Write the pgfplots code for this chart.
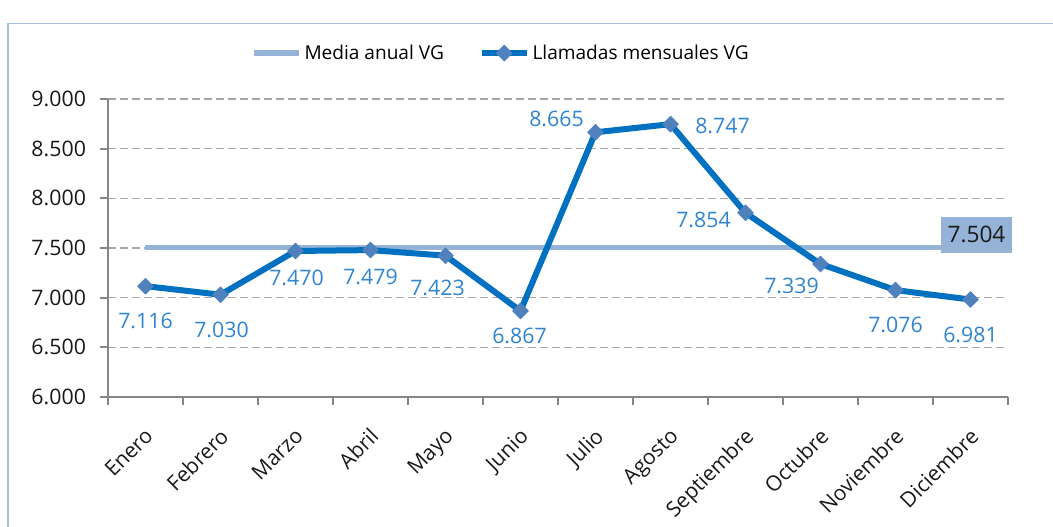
\documentclass[border=0pt]{standalone}
\usepackage{pgfplots}
\usepackage{pgfplotstable}
\pgfplotsset{compat=1.18}
\usepackage{fontspec}
\setmainfont{Open Sans}
\definecolor{mainblue}{HTML}{0070C0}
\definecolor{markblue}{HTML}{4F81BD}
\definecolor{meanblue}{HTML}{95B3D7}
\definecolor{lblblue}{HTML}{2F85CF}
\definecolor{gridgray}{HTML}{A6A6A6}
\definecolor{axisgray}{HTML}{868686}
\definecolor{framecol}{HTML}{A7BFDE}
\pgfplotstableread{
x y dx dy
0 7116 0 -34.5
1 7030 1 -35
2 7470 1 -26.5
3 7479 0 -27
4 7423 -8 -32
5 6867 -1 -25
6 8665 -39 13
7 8747 52 -2
8 7854 -42 -7
9 7339 -29 -21.5
10 7076 0 -34.5
11 6981 0 -35
}\calls
\pgfplotstableread{
x y
0 7504
1 7504
2 7504
3 7504
4 7504
5 7504
6 7504
7 7504
8 7504
9 7504
10 7504
11 7504
}\media
\begin{document}
\begin{tikzpicture}
\useasboundingbox (-81pt,-96.75pt) rectangle (708.75pt,297.75pt);
\draw[framecol, line width=0.9pt] (-75pt,-130pt) rectangle (730pt,280pt);
\begin{axis}[
  at={(0pt,0pt)}, anchor=south west,
  scale only axis, width=675pt, height=223.5pt,
  xmin=-0.5, xmax=11.5, ymin=6000, ymax=9000,
  xtick={0,...,11},
  xticklabels={Enero,Febrero,Marzo,Abril,Mayo,Junio,Julio,Agosto,Septiembre,Octubre,Noviembre,Diciembre},
  minor xtick={-0.5,0.5,...,11.5},
  ytick={6000,6500,...,9000},
  axis x line=bottom, axis y line=left,
  axis line style={-, axisgray, line width=1.5pt},
  tick align=outside, major tick length=6pt, minor tick length=6pt,
  tick style={axisgray, line width=1.5pt},
  every major x tick/.append style={draw=none},
  ymajorgrids, xmajorgrids=false,
  major grid style={gridgray, dash pattern=on 6pt off 3pt, line width=1.1pt},
  yticklabel style={xshift=-7pt, font=\fontsize{16}{19}\selectfont, color=black!90},
  xticklabel style={rotate=45, anchor=north east, xshift=-9pt, yshift=-7pt,
    font=\fontsize{15.8}{19}\selectfont, color=black!90},
  legend style={at={(0.437,1.154)}, anchor=center, draw=none, fill=none,
    font=\fontsize{14.3}{17}\selectfont, legend columns=2,
    /tikz/every even column/.append style={column sep=24pt}},
  legend image code/.code={\draw[mark repeat=2,mark phase=2,#1] plot coordinates {(0pt,0pt) (17pt,0pt) (34pt,0pt)};},
  /pgf/number format/1000 sep={.},
  /pgf/number format/fixed,
  /pgf/number format/precision=0,
  /pgf/number format/assume math mode=true,
  clip=false,
]
\addplot[meanblue, line width=4pt] table[x=x,y=y] {\media};
\addlegendentry{Media anual VG}
\addplot[mainblue, line width=4.5pt, line join=round,
  mark=square*, mark size=4.2pt,
  mark options={rotate=45, fill=markblue, draw=markblue, line width=0.5pt},
  point meta=explicit,
  visualization depends on={\thisrow{dx} \as \dx},
  visualization depends on={\thisrow{dy} \as \dy},
  nodes near coords,
  nodes near coords style={anchor=center, xshift={(\dx)*0.75pt}, yshift={(\dy)*0.75pt},
    font=\fontsize{16}{19}\selectfont, text=lblblue},
] table[x=x,y=y,meta=y] {\calls};
\addlegendentry{Llamadas mensuales VG}
\addplot[draw=none, forget plot, point meta=explicit, nodes near coords,
  nodes near coords style={anchor=center, xshift=4.5pt, yshift=9.5pt, fill=meanblue,
    text=black!90, font=\fontsize{17}{20}\selectfont, minimum width=53.25pt,
    minimum height=27pt, inner sep=0pt}]
  coordinates {(11,7504) [7504]};
\end{axis}
\end{tikzpicture}
\end{document}
